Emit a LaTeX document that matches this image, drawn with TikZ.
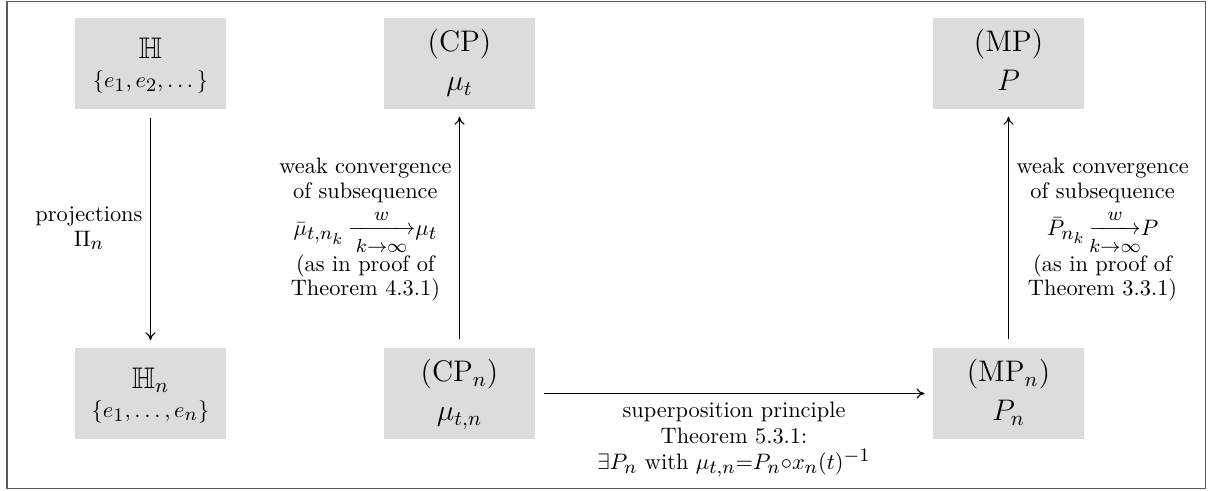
\documentclass[tikz,border=0pt]{standalone}
\usepackage{fix-cm}
\usepackage{amsmath,amssymb}
\usetikzlibrary{arrows.meta}
\DeclareMathSizes{10}{10}{8.5}{7}
\definecolor{boxgray}{RGB}{220,220,220}
\newcommand{\boxfont}{\fontsize{13.3}{17.4}\selectfont}
\newcommand{\lblfont}{\fontsize{10}{11}\selectfont\lineskiplimit=-100pt\relax}
\newcommand{\hlblfont}{\fontsize{10}{11.8}\selectfont\lineskiplimit=-100pt\relax}
\newcommand{\warrow}[1]{\mathord{\mathop{\raisebox{0.8pt}{\makebox[#1]{\rightarrowfill}}}\limits^{\raisebox{0.6pt}{$\scriptstyle w$}}_{\raisebox{-0.6pt}{$\scriptstyle k\to\infty$}}}}
\begin{document}
\begin{tikzpicture}[x=0.447pt,y=-0.447pt,
  box/.style={rectangle,fill=boxgray,minimum width=67.5pt,minimum height=40.7pt,inner sep=0pt},
  conn/.style={draw,line width=0.5pt,-{To[length=3.6pt,width=4.6pt]},shorten <=3.6pt,shorten >=3.2pt},
  lbl/.style={align=center,font=\lblfont},
  hlbl/.style={align=center,font=\hlblfont}]
\useasboundingbox (0,0) rectangle (1208,491);
\draw[black!65,line width=0.6pt] (7,1.5) rectangle (1205.5,488.5);

\node[box] (H) at (150.5,63.5) {\begin{tabular}{@{}c@{}}\rule{0pt}{11.9pt}{\boxfont$\mathbb{H}$}\\[1pt]$\{e_1,e_2,\dots\}$\end{tabular}};
\node[box] (Hn) at (150.5,393.5) {\begin{tabular}{@{}c@{}}\rule{0pt}{11.9pt}{\boxfont$\mathbb{H}_n$}\\[1pt]$\{e_1,\dots,e_n\}$\end{tabular}};
\node[box] (CP) at (459.5,63.5) {\boxfont\begin{tabular}{@{}c@{}}(CP)\\$\mu_t$\end{tabular}};
\node[box] (CPn) at (459.5,393.5) {\boxfont\begin{tabular}{@{}c@{}}(CP$_n$)\\$\mu_{t,n}$\end{tabular}};
\node[box] (MP) at (1008.5,63.5) {\boxfont\begin{tabular}{@{}c@{}}(MP)\\$P$\end{tabular}};
\node[box] (MPn) at (1008.5,393.5) {\boxfont\begin{tabular}{@{}c@{}}(MP$_n$)\\$P_n$\end{tabular}};

\draw[conn] (H) -- node[left,lbl] {projections\\$\Pi_n$} (Hn);
\draw[conn] (CPn) -- node[left,lbl,yshift=-0.6pt] {weak convergence\\of subsequence\\[5.8pt]$\bar\mu_{t,n_k}\,\warrow{30pt}\mu_t$\\[4.8pt](as in proof of\\Theorem 4.3.1)} (CP);
\draw[conn] (MPn) -- node[right,lbl,yshift=-0.6pt] {weak convergence\\of subsequence\\[5.8pt]$\bar P_{n_k}\,\warrow{23pt}P$\\[4.8pt](as in proof of\\Theorem 3.3.1)} (MP);
\draw[conn,shorten >=3.6pt] (CPn) -- node[below,hlbl] {superposition principle\\Theorem 5.3.1:\\$\exists P_n$ with $\mu_{t,n}{=}P_n{\circ}x_n(t)^{-1}$} (MPn);
\end{tikzpicture}
\end{document}
